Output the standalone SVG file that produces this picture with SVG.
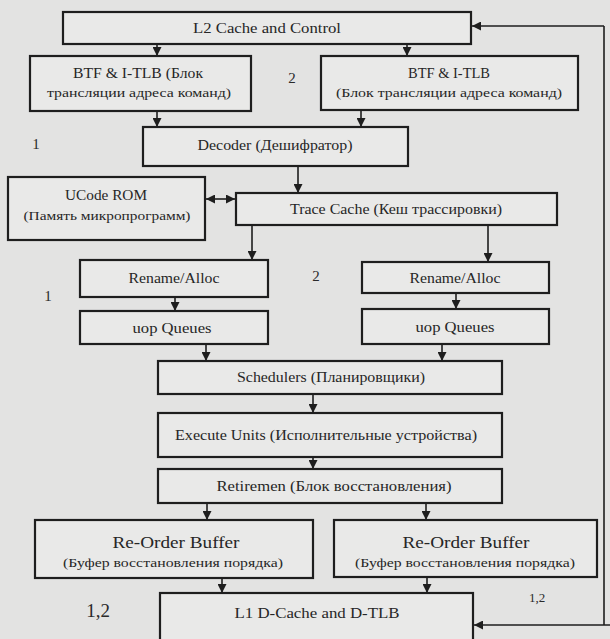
<svg xmlns="http://www.w3.org/2000/svg" width="610" height="639" viewBox="0 0 610 639" font-family="'Liberation Serif', 'Times New Roman', 'DejaVu Serif', serif">
  <defs>
    <marker id="ah" viewBox="0 0 10 10" refX="10" refY="5" markerWidth="9" markerHeight="9" markerUnits="userSpaceOnUse" orient="auto-start-reverse">
      <path d="M0,0 L10,5 L0,10 z" fill="#1e1e1e"/>
    </marker>
    <style>
      .box { fill: #e9e9e8; stroke: #1e1e1e; stroke-width: 2.2; }
      text { font-family: 'Liberation Serif', 'Times New Roman', 'DejaVu Serif', serif; }
      .t { fill: #262626; text-anchor: middle; }
      .s14 { font-size: 14px; }
      .s13 { font-size: 13px; }
      .s12 { font-size: 12px; }
      .s17 { font-size: 17px; }
      .num { fill: #2a2a2a; text-anchor: middle; }
      .c { fill: none; stroke: #1e1e1e; stroke-width: 1.6; marker-end: url(#ah); }
      .c2 { fill: none; stroke: #1e1e1e; stroke-width: 1.6; marker-start: url(#ah); marker-end: url(#ah); }
      .l { fill: none; stroke: #1e1e1e; stroke-width: 1.6; }
    </style>
  </defs>

  <rect x="0" y="0" width="610" height="639" fill="#e3e3e2"/>

  <g id="connectors">
    <!-- L2 to both BTF blocks -->
    <path class="c" d="M157,44 V56"/>
    <path class="c" d="M407,44 V56"/>
    <!-- BTF blocks to decoder -->
    <path class="c" d="M157,111 V127"/>
    <path class="c" d="M361,111 V127"/>
    <!-- decoder to trace cache -->
    <path class="c" d="M298,166 V193"/>
    <!-- UCode ROM <-> trace cache -->
    <path class="c2" d="M206,199 H235"/>
    <!-- trace cache to rename -->
    <path class="c" d="M252,225 V260"/>
    <path class="c" d="M488,225 V262"/>
    <!-- rename to queues -->
    <path class="c" d="M175,297 V311"/>
    <path class="c" d="M456,293 V309"/>
    <!-- queues to schedulers -->
    <path class="c" d="M206,344 V361"/>
    <path class="c" d="M442,344 V361"/>
    <!-- scheduler chain -->
    <path class="c" d="M313,394 V413"/>
    <path class="c" d="M313,457 V469"/>
    <!-- retirement to reorder buffers -->
    <path class="c" d="M207,503 V520"/>
    <path class="c" d="M426,503 V520"/>
    <!-- reorder buffers to L1 -->
    <path class="c" d="M222,578 V593"/>
    <path class="c" d="M427,577 V593"/>
    <!-- feedback loop along the right edge -->
    <path class="c" d="M610,625 H474"/>
    <path class="l" d="M604,625 V26"/>
    <path class="c" d="M604,26 H472"/>
  </g>

  <g id="l2">
    <rect class="box" x="63" y="12" width="408" height="32"/>
    <text class="t s14" x="267" y="33" textLength="148" lengthAdjust="spacingAndGlyphs">L2 Cache and Control</text>
  </g>

  <g id="btf1">
    <rect class="box" x="30" y="56" width="221" height="55"/>
    <text class="t s14" x="138" y="78" textLength="130" lengthAdjust="spacingAndGlyphs">BTF &amp; I-TLB (Блок</text>
    <text class="t s12" x="139" y="97" textLength="184" lengthAdjust="spacingAndGlyphs">трансляции адреса команд)</text>
  </g>

  <g id="btf2">
    <rect class="box" x="321" y="56" width="257" height="54"/>
    <text class="t s14" x="449" y="78" textLength="82" lengthAdjust="spacingAndGlyphs">BTF &amp; I-TLB</text>
    <text class="t s12" x="449" y="97" textLength="226" lengthAdjust="spacingAndGlyphs">(Блок трансляции адреса команд)</text>
  </g>

  <g id="decoder">
    <rect class="box" x="143" y="127" width="265" height="39"/>
    <text class="t s14" x="275" y="150" textLength="155" lengthAdjust="spacingAndGlyphs">Decoder (Дешифратор)</text>
  </g>

  <g id="ucode">
    <rect class="box" x="8" y="177" width="197" height="63"/>
    <text class="t s14" x="106" y="200" textLength="82" lengthAdjust="spacingAndGlyphs">UCode ROM</text>
    <text class="t s13" x="107" y="220" textLength="167" lengthAdjust="spacingAndGlyphs">(Память микропрограмм)</text>
  </g>

  <g id="trace">
    <rect class="box" x="236" y="193" width="321" height="32"/>
    <text class="t s14" x="396" y="214" textLength="212" lengthAdjust="spacingAndGlyphs">Trace Cache  (Кеш трассировки)</text>
  </g>

  <g id="rename1">
    <rect class="box" x="80" y="260" width="188" height="37"/>
    <text class="t s14" x="174" y="283" textLength="91" lengthAdjust="spacingAndGlyphs">Rename/Alloc</text>
  </g>

  <g id="rename2">
    <rect class="box" x="362" y="262" width="187" height="31"/>
    <text class="t s14" x="455" y="283" textLength="91" lengthAdjust="spacingAndGlyphs">Rename/Alloc</text>
  </g>

  <g id="queues1">
    <rect class="box" x="80" y="311" width="188" height="33"/>
    <text class="t s14" x="172" y="333" textLength="79" lengthAdjust="spacingAndGlyphs">uop Queues</text>
  </g>

  <g id="queues2">
    <rect class="box" x="362" y="309" width="187" height="35"/>
    <text class="t s14" x="455" y="332" textLength="79" lengthAdjust="spacingAndGlyphs">uop Queues</text>
  </g>

  <g id="schedulers">
    <rect class="box" x="158" y="361" width="344" height="33"/>
    <text class="t s14" x="331" y="382" textLength="188" lengthAdjust="spacingAndGlyphs">Schedulers (Планировщики)</text>
  </g>

  <g id="execute">
    <rect class="box" x="158" y="413" width="344" height="44"/>
    <text class="t s14" x="326" y="440" textLength="302" lengthAdjust="spacingAndGlyphs">Execute Units (Исполнительные устройства)</text>
  </g>

  <g id="retire">
    <rect class="box" x="158" y="469" width="344" height="34"/>
    <text class="t s14" x="334" y="491" textLength="235" lengthAdjust="spacingAndGlyphs">Retiremen (Блок восстановления)</text>
  </g>

  <g id="rob1">
    <rect class="box" x="35" y="520" width="278" height="58"/>
    <text class="t s17" x="176" y="548" textLength="127" lengthAdjust="spacingAndGlyphs">Re-Order Buffer</text>
    <text class="t s13" x="173" y="567" textLength="220" lengthAdjust="spacingAndGlyphs">(Буфер восстановления порядка)</text>
  </g>

  <g id="rob2">
    <rect class="box" x="334" y="520" width="263" height="57"/>
    <text class="t s17" x="466" y="548" textLength="127" lengthAdjust="spacingAndGlyphs">Re-Order Buffer</text>
    <text class="t s13" x="465" y="567" textLength="220" lengthAdjust="spacingAndGlyphs">(Буфер восстановления порядка)</text>
  </g>

  <g id="l1">
    <rect class="box" x="160" y="593" width="313" height="60"/>
    <text class="t s14" x="317" y="618" textLength="165" lengthAdjust="spacingAndGlyphs">L1 D-Cache and D-TLB</text>
  </g>

  <g id="numbers">
    <text class="num" x="292" y="83" font-size="15">2</text>
    <text class="num" x="36" y="149" font-size="15">1</text>
    <text class="num" x="316" y="281" font-size="15">2</text>
    <text class="num" x="48" y="301" font-size="15">1</text>
    <text class="num" x="98" y="617" font-size="19">1,2</text>
    <text class="num" x="537" y="602" font-size="13">1,2</text>
  </g>
</svg>
